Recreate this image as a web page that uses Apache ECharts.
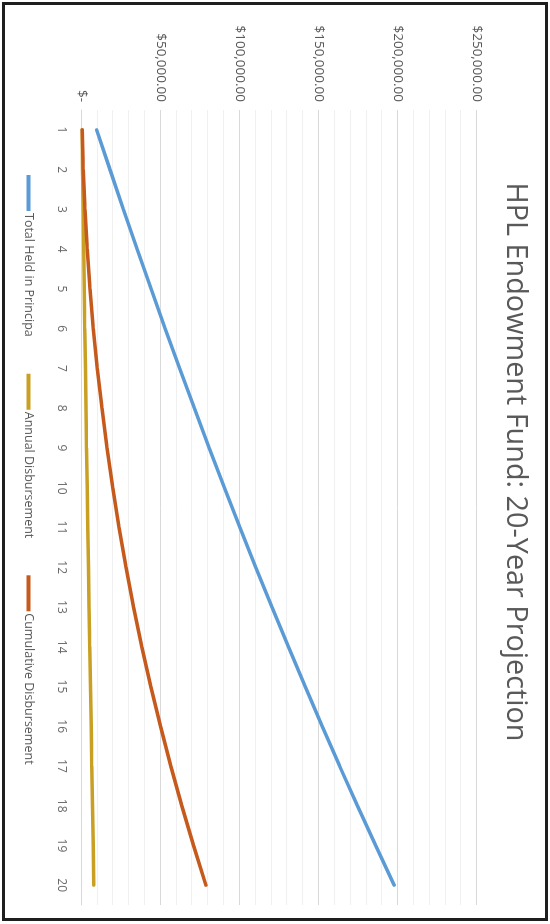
<!DOCTYPE html>
<html>
<head>
<meta charset="utf-8">
<script src="https://cdn.jsdelivr.net/npm/echarts@6/dist/echarts.min.js"></script>
<style>
  html, body { margin: 0; padding: 0; background: #ffffff; width: 550px; height: 924px; overflow: hidden; }
  #chart {
    position: absolute; left: 0; top: 0;
    width: 924px; height: 550px;
    transform-origin: 0 0;
    transform: translate(550px, 0) rotate(90deg);
  }
  #frame {
    position: absolute; left: 2px; top: 2px;
    width: 546px; height: 919px;
    box-sizing: border-box;
    border: 3px solid #1e1e1e;
    pointer-events: none;
  }
</style>
</head>
<body>
<div id="chart"></div>
<div id="frame"></div>
<script>
// Years of the projection
const years = ['1','2','3','4','5','6','7','8','9','10','11','12','13','14','15','16','17','18','19','20'];

// Total held in principal at the end of each year ($)
const totalHeld = [9600, 18000, 26500, 35200, 44000, 52900, 62000, 71300, 80700, 90300,
                   100100, 110100, 120300, 130700, 141300, 152100, 163100, 174400, 185900, 197600];

// Amount paid out in each year ($)
const annualDisbursement = [400, 700, 1100, 1400, 1800, 2100, 2500, 2900, 3200, 3600,
                            4000, 4400, 4800, 5200, 5700, 6100, 6500, 7000, 7400, 7800];

// Running total of everything paid out ($)
const cumulativeDisbursement = [400, 1100, 2200, 3600, 5400, 7500, 10000, 12900, 16100, 19700,
                                23700, 28100, 32900, 38100, 43800, 49900, 56400, 63400, 70800, 78600];

const seriesNames = ['Total Held in Principa', 'Annual Disbursement', 'Cumulative Disbursement'];
const seriesColors = ['#5b9bd5', '#c9a024', '#c65a1c'];

function money(v) {
  if (v === 0) return '$-';
  return '$' + v.toLocaleString('en-US') + '.00';
}

const chart = echarts.init(document.getElementById('chart'), null, { renderer: 'canvas' });
const textColor = '#595959';
const font = 'Open Sans';

function lineSeries(i, data) {
  return {
    name: seriesNames[i],
    type: 'line',
    data: data,
    symbol: 'none',
    smooth: false,
    lineStyle: { color: seriesColors[i], width: 3.5, cap: 'round' },
    itemStyle: { color: seriesColors[i] }
  };
}

chart.setOption({
  animation: false,
  backgroundColor: '#ffffff',
  title: {
    text: 'HPL Endowment Fund: 20-Year Projection',
    left: 'center',
    top: 15,
    textStyle: { color: textColor, fontFamily: font, fontSize: 28.8, fontWeight: 'normal' }
  },
  legend: {
    bottom: 17,
    left: 170,
    itemGap: 37,
    itemWidth: 36,
    itemHeight: 4,
    icon: 'rect',
    textStyle: { color: textColor, fontFamily: font, fontSize: 12.5, padding: [0, 0, 0, -3] },
    data: seriesNames
  },
  grid: { left: 110, right: 19, top: 73, bottom: 81.5, containLabel: false },
  xAxis: {
    type: 'category',
    data: years,
    boundaryGap: true,
    axisLine: { show: true, lineStyle: { color: '#d9d9d9', width: 1 } },
    axisTick: { show: false },
    axisLabel: { color: '#6a6a6a', fontFamily: font, fontSize: 12, margin: 14 }
  },
  yAxis: {
    type: 'value',
    min: 0,
    max: 250000,
    interval: 50000,
    axisLine: { show: false },
    axisTick: { show: false },
    axisLabel: { color: textColor, fontFamily: font, fontSize: 13.5, margin: 8, formatter: money },
    splitLine: { show: true, lineStyle: { color: '#d9d9d9', width: 1 } },
    minorTick: { show: false, splitNumber: 5 },
    minorSplitLine: { show: true, lineStyle: { color: '#f0f0f0', width: 1 } }
  },
  series: [
    lineSeries(0, totalHeld),
    lineSeries(1, annualDisbursement),
    lineSeries(2, cumulativeDisbursement)
  ]
});
</script>
</body>
</html>
